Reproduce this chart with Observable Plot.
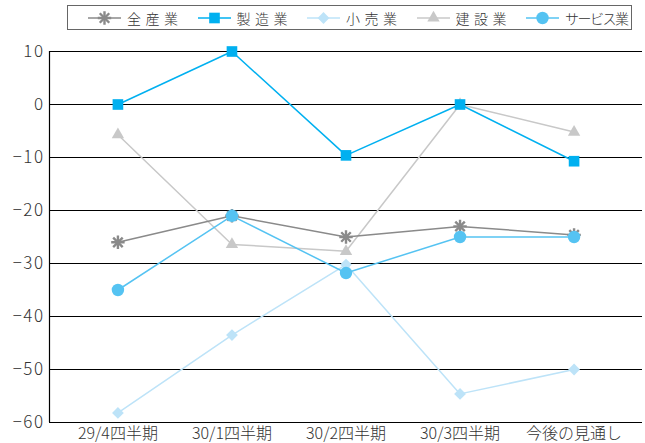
<!DOCTYPE html>
<html><head><meta charset="utf-8">
<script src="https://cdn.jsdelivr.net/npm/d3@7"></script>
<script src="https://cdn.jsdelivr.net/npm/@observablehq/plot@0.6"></script>
<style>
html,body{margin:0;padding:0;background:#fff;}
#wrap{position:relative;width:645px;height:443px;font-family:"Noto Sans CJK JP","Noto Sans",sans-serif;}
#legend{position:absolute;left:67px;top:5px;width:543px;height:23px;border:1.5px solid #666;background:#fff;display:flex;flex-wrap:nowrap;align-items:center;padding-left:20px;z-index:2;white-space:nowrap;}
.item{display:flex;align-items:center;margin-right:15px;flex-shrink:0;}
.item svg{display:block;margin-right:6px;flex-shrink:0;}
.item span{font-size:14px;color:#333;letter-spacing:4.5px;line-height:1;white-space:nowrap;font-weight:300;}
#chart{position:absolute;left:0;top:0;}
#chart g[aria-label="y-axis tick label"] text{letter-spacing:1.5px;}
</style></head>
<body><div id="wrap"><div id="legend"></div><div id="chart"></div></div>
<script>
const categories = ["29/4四半期","30/1四半期","30/2四半期","30/3四半期","今後の見通し"];
const seriesNames = ["全産業","製造業","小売業","建設業","サービス業"];
const allIndustry   = [-26, -21, -25, -23, -24.6];
const manufacturing = [0, 10, -9.6, 0, -10.7];
const retail        = [-58.2, -43.5, -30.2, -54.6, -50];
const construction  = [-5.7, -26.4, -27.7, 0, -5.2];
const services      = [-35, -21, -31.8, -25, -25];
const yTicks = [10, 0, -10, -20, -30, -40, -50, -60];

const colors = {"全産業":"#8a8a8a","製造業":"#00b0f0","小売業":"#bde3f8","建設業":"#c8c8c8","サービス業":"#55c3f2"};
const symbols = {"全産業":"asterisk","製造業":"square","小売業":"diamond2","建設業":"triangle","サービス業":"circle"};
const sizes = {"全産業":4.4,"製造業":6,"小売業":5.3,"建設業":4.6,"サービス業":6.2};
const valuesBy = {"全産業":allIndustry,"製造業":manufacturing,"小売業":retail,"建設業":construction,"サービス業":services};

const xDomain = [-0.6, 4.6];
const rows = s => categories.map((c,i)=>({i, v:valuesBy[s][i], s}));
const drawOrder = ["建設業","小売業","全産業","サービス業","製造業"];

const marks = [
  Plot.ruleY(yTicks, {stroke:"#000", strokeWidth:1.2}),
  Plot.ruleX([xDomain[0]], {stroke:"#000", strokeWidth:1.2}),
  Plot.axisY({ticks:yTicks, tickSize:0, tickPadding:5, fontSize:17, fill:"#333", fontWeight:300}),
  Plot.axisX({ticks:d3.range(categories.length), tickFormat:i=>categories[i], tickSize:0, tickPadding:5, fontSize:16, fill:"#333", fontWeight:300})
];
for (const s of drawOrder) {
  const d = rows(s);
  marks.push(Plot.line(d, {x:"i", y:"v", stroke:colors[s], strokeWidth:1.5}));
  if (s === "全産業") {
    marks.push(Plot.dot(d, {x:"i", y:"v", symbol:"plus", r:sizes[s], stroke:colors[s], strokeWidth:2.4}));
    marks.push(Plot.dot(d, {x:"i", y:"v", symbol:"times", r:sizes[s], stroke:colors[s], strokeWidth:2.4}));
  } else {
    marks.push(Plot.dot(d, {x:"i", y:"v", symbol:symbols[s], r:sizes[s], fill:colors[s], stroke:"none"}));
  }
}

const chart = Plot.plot({
  width:645, height:443,
  marginLeft:49, marginRight:3, marginTop:51, marginBottom:21,
  style:{fontFamily:"'Noto Sans CJK JP', 'Noto Sans', sans-serif", background:"#fff", overflow:"visible"},
  x:{type:"linear", domain:xDomain, label:null, axis:null},
  y:{domain:[-60,10], label:null, axis:null},
  marks
});
document.getElementById("chart").appendChild(chart);

// legend
const leg = document.getElementById("legend");
for (const s of seriesNames) {
  const item = document.createElement("div"); item.className = "item";
  const ns = "http://www.w3.org/2000/svg";
  const svg = document.createElementNS(ns,"svg"); svg.setAttribute("width",33); svg.setAttribute("height",16);
  const ln = document.createElementNS(ns,"line");
  ln.setAttribute("x1",0); ln.setAttribute("x2",33); ln.setAttribute("y1",8); ln.setAttribute("y2",8);
  ln.setAttribute("stroke",colors[s]); ln.setAttribute("stroke-width",1.5);
  svg.appendChild(ln);
  const area = Math.PI*sizes[s]*sizes[s];
  const add = (type, filled) => {
    const p = document.createElementNS(ns,"path");
    p.setAttribute("d", d3.symbol(type, area)());
    p.setAttribute("transform","translate(16.5,8)");
    if (filled) { p.setAttribute("fill",colors[s]); }
    else { p.setAttribute("fill","none"); p.setAttribute("stroke",colors[s]); p.setAttribute("stroke-width",2.4); }
    svg.appendChild(p);
  };
  if (s === "全産業") { add(d3.symbolPlus,false); add(d3.symbolTimes,false); }
  else add({"製造業":d3.symbolSquare,"小売業":d3.symbolDiamond2,"建設業":d3.symbolTriangle,"サービス業":d3.symbolCircle}[s], true);
  const t = document.createElement("span"); t.textContent = s;
  if (s === "サービス業") t.style.letterSpacing = "-1.5px";
  item.appendChild(svg); item.appendChild(t); leg.appendChild(item);
}
</script></body></html>
